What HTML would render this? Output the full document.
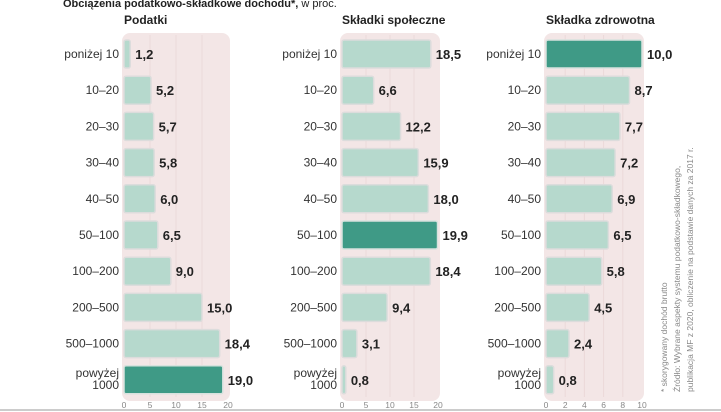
<!DOCTYPE html>
<html><head><meta charset="utf-8"><style>
html,body{margin:0;padding:0;background:#fff;}
svg{display:block;font-family:"Liberation Sans",sans-serif;}
</style></head><body>
<svg id="chart" width="721" height="412" viewBox="0 0 721 412">
<text x="63" y="7" font-size="11" font-weight="bold" fill="#222">Obciążenia podatkowo-składkowe dochodu*, <tspan font-weight="normal">w proc.</tspan></text>
<g fill="#888" font-size="8.5">
<text transform="translate(667,392) rotate(-90)">* skorygowany dochód brutto</text>
<text transform="translate(680,392) rotate(-90)">Źródło: Wybrane aspekty systemu podatkowo-składkowego,</text>
<text transform="translate(693,392) rotate(-90)">publikacja MF z 2020, obliczenie na podstawie danych za 2017 r.</text>
</g>
<line x1="0" y1="410" x2="721" y2="410" stroke="#ccc" stroke-width="2"/>
</svg>
<script>
const categories=["poniżej 10","10–20","20–30","30–40","40–50","50–100","100–200","200–500","500–1000","powyżej 1000"];
const titles=["Podatki","Składki społeczne","Składka zdrowotna"];
const podatki=[1.2,5.2,5.7,5.8,6.0,6.5,9.0,15.0,18.4,19.0];
const skladkiSpoleczne=[18.5,6.6,12.2,15.9,18.0,19.9,18.4,9.4,3.1,0.8];
const skladkaZdrowotna=[10.0,8.7,7.7,7.2,6.9,6.5,5.8,4.5,2.4,0.8];
const ticksA=[0,5,10,15,20];
const ticksC=[0,2,4,6,8,10];
const panels=[
 {vals:podatki,x0:124,x1:228,max:20,ticks:ticksA,titleX:124},
 {vals:skladkiSpoleczne,x0:342,x1:438,max:20,ticks:ticksA,titleX:342},
 {vals:skladkaZdrowotna,x0:546,x1:642,max:10,ticks:ticksC,titleX:546}
];
const svg=document.getElementById('chart');
const NS='http://www.w3.org/2000/svg';
function mk(t,a,p){const e=document.createElementNS(NS,t);for(const k in a)e.setAttribute(k,a[k]);(p||svg).appendChild(e);return e;}
const y=i=>54+i*36.2;
panels.forEach((p,pi)=>{
 const sx=v=>p.x0+(p.x1-p.x0)*v/p.max;
 const g=mk('g',{});
 
 
 const bg=mk('rect',{x:p.x0-2,y:33,width:p.x1-p.x0+4,height:368,rx:8,fill:'#f3e6e6'},g);
 
 
 p.ticks.forEach(t=>{
  if(t>0&&t<p.max){const l=mk('line',{x1:sx(t),x2:sx(t),y1:35,y2:397,stroke:'#ebd9d9','stroke-width':1},g);
  
  }
  const tx=mk('text',{x:sx(t),y:408,'font-size':8.5,fill:'#888','text-anchor':'middle'},g);
  tx.textContent=t;
  
  
 });
 const tt=mk('text',{x:p.titleX,y:24,'font-size':12,'font-weight':'bold',fill:'#222'},g);
 tt.textContent=titles[pi];
 
 
 const mx=Math.max(...p.vals);
 p.vals.forEach((v,i)=>{
  const cy=y(i);
  const w=Math.max(sx(v)-p.x0,2);
  const r=mk('rect',{x:p.x0,y:cy-14,width:w,height:28,rx:2,fill:v===mx?'#3f9a86':'#b6d9cd',stroke:v===mx?'#d8e2de':'#dcdcdc','stroke-width':1.5},g);
  
  
  const vl=mk('text',{x:p.x0+w+5,y:cy+5,'font-size':13,'font-weight':'bold',fill:'#222'},g);
  vl.textContent=v.toFixed(1).replace('.',',');
  
  
  const cl=mk('text',{x:p.x0-5,'font-size':12,fill:'#333','text-anchor':'end'},g);
  
  
  if(categories[i]==='powyżej 1000'){
   cl.setAttribute('y',cy-3);
   const a=mk('tspan',{x:p.x0-5},cl);a.textContent='powyżej';
   const b=mk('tspan',{x:p.x0-5,dy:12},cl);b.textContent='1000';
  }else{cl.setAttribute('y',cy+4);cl.textContent=categories[i];}
 });
});
</script>
</body></html>
